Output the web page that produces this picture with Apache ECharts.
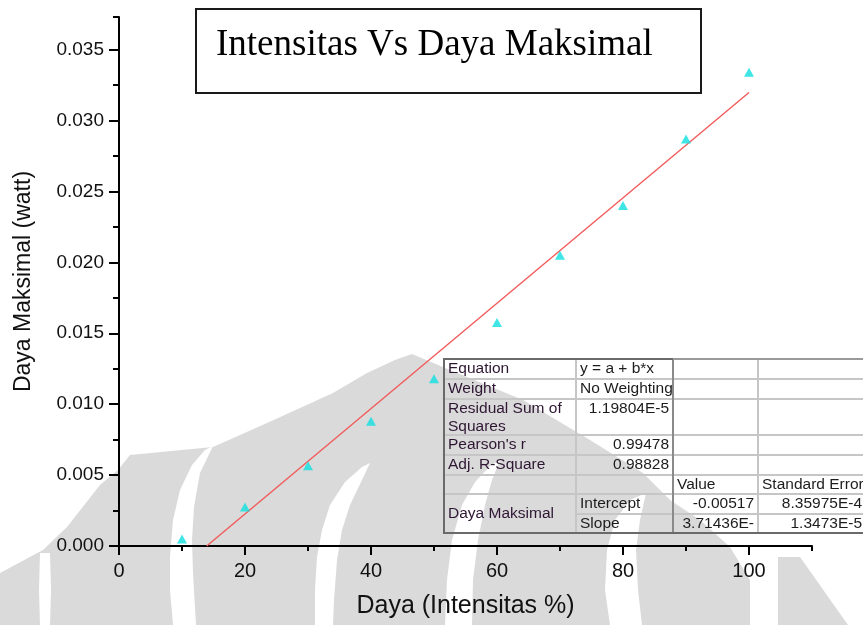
<!DOCTYPE html>
<html>
<head>
<meta charset="utf-8">
<title>Intensitas Vs Daya Maksimal</title>
<script src="https://cdn.jsdelivr.net/npm/echarts@6/dist/echarts.min.js"></script>
<style>
  html, body { margin: 0; padding: 0; background: #ffffff; }
  #chart { width: 863px; height: 625px; }
</style>
</head>
<body>
<div id="chart"></div>
<script>
// Measured points: light intensity (%) vs maximum power (W)
const intensitas = [10, 20, 30, 40, 50, 60, 70, 80, 90, 100];
const dayaMaksimal = [0.0005, 0.00275, 0.00565, 0.0088, 0.0118, 0.01576, 0.0205, 0.0240, 0.0287, 0.0334];

// Linear fit y = a + b*x
const fitIntercept = -0.00517;
const fitSlope = 3.71436e-4;

// Axis ticks
const xMajorTicks = [0, 20, 40, 60, 80, 100];
const xMinorTicks = [10, 30, 50, 70, 90, 110];
const yMajorTicks = [0, 0.005, 0.010, 0.015, 0.020, 0.025, 0.030, 0.035];
const yMinorTicks = [0.0025, 0.0075, 0.0125, 0.0175, 0.0225, 0.0275, 0.0325, 0.0373];
const xMax = 110;
const yMax = 0.0373;

// Fit statistics table
const tableRows = [
  ['Equation', 'y = a + b*x', '', ''],
  ['Weight', 'No Weighting', '', ''],
  ['Residual Sum of\nSquares', '1.19804E-5', '', ''],
  ["Pearson's r", '0.99478', '', ''],
  ['Adj. R-Square', '0.98828', '', ''],
  ['', '', 'Value', 'Standard Error'],
  ['Daya Maksimal', 'Intercept', '-0.00517', '8.35975E-4'],
  ['', 'Slope', '3.71436E-', '1.3473E-5']
];
const chartTitle = 'Intensitas Vs Daya Maksimal';

const chart = echarts.init(document.getElementById('chart'), null, { renderer: 'canvas' });

const SANS = '"Liberation Sans", Arial, sans-serif';
const SERIF = '"Liberation Serif", "Times New Roman", serif';

// fitted line runs from where it crosses zero up to x = 100
const fitStartX = -fitIntercept / fitSlope;
const fitLine = [
  [fitStartX, fitIntercept + fitSlope * fitStartX],
  [100, fitIntercept + fitSlope * 100]
];

// ---------- background emblem (faint watermark) ----------
const GRAY = '#dadada';
function shape(points, fill, z) {
  return { type: 'polygon', z: z, silent: true, shape: { points: points }, style: { fill: fill } };
}
const emblem = [
  shape([[0,573],[43,550],[67,527],[100,485],[118,470],[130,455],[213,447],[267,423],[333,393],[367,373],
         [395,360],[412,354],[450,370],[523,400],[590,440],[643,473],[670,500],[700,520],[730,547],
         [750,580],[750,625],[0,625]], GRAY, -20),
  shape([[778,557],[800,557],[848,625],[778,625]], GRAY, -20),
  // white crescents cutting through the emblem
  shape([[40,553],[50,553],[51,590],[50,625],[40,625],[39,590]], '#ffffff', -19),
  shape([[213,446],[200,473],[194,507],[192,540],[193,573],[196,625],[173,625],[170,590],[170,557],
         [173,520],[180,490],[192,465],[205,450]], '#ffffff', -19),
  shape([[370,463],[362,480],[350,505],[342,530],[337,560],[334,600],[333,625],[315,625],[315,590],
         [317,557],[322,530],[330,505],[345,482],[362,467]], '#ffffff', -19),
  shape([[500,460],[492,480],[485,505],[478,540],[473,580],[472,625],[445,625],[447,580],[452,540],
         [462,505],[475,482],[490,466]], '#ffffff', -19),
  shape([[646,493],[640,520],[636,550],[638,590],[642,625],[610,625],[605,590],[607,550],[615,520],
         [630,500]], '#ffffff', -19)
];

// ---------- title box ----------
const titleBox = [
  { type: 'rect', z: 10, shape: { x: 196, y: 9, width: 505, height: 84 },
    style: { fill: '#ffffff', stroke: '#1a1a1a', lineWidth: 2 } },
  { type: 'text', z: 11, x: 216, y: 45,
    style: { text: chartTitle, font: '37px ' + SERIF, fill: '#000000', verticalAlign: 'middle' } }
];

// ---------- statistics table ----------
const colX = [444, 576, 673, 758, 866];
const rowY = [359, 379, 399, 435, 455, 475, 494, 514, 533];
const rightAligned = {
  '2,1': true, '3,1': true, '4,1': true,
  '6,2': true, '6,3': true, '7,2': true, '7,3': true
};
const tableEls = [];
const INNER = '#c6c6c6';
const OUTER = '#6a6a6a';
// horizontal rules
for (let r = 1; r < rowY.length - 1; r++) {
  const y = rowY[r];
  // the merged "Daya Maksimal" cell has no rule between its two rows
  const x0 = (r === 7) ? colX[1] : colX[0];
  tableEls.push({ type: 'line', z: 5, silent: true,
    shape: { x1: x0, y1: y, x2: colX[4], y2: y },
    style: { stroke: INNER, lineWidth: 2 } });
}
// vertical rules
[1, 3].forEach(function (c) {
  tableEls.push({ type: 'line', z: 5, silent: true,
    shape: { x1: colX[c], y1: rowY[0], x2: colX[c], y2: rowY[8] },
    style: { stroke: INNER, lineWidth: 2 } });
});
tableEls.push({ type: 'line', z: 6, silent: true,
  shape: { x1: colX[2], y1: rowY[0], x2: colX[2], y2: rowY[8] },
  style: { stroke: '#8a8a8a', lineWidth: 2 } });
// outer frame
tableEls.push({ type: 'polyline', z: 7, silent: true,
  shape: { points: [[colX[2], rowY[0]], [colX[0], rowY[0]], [colX[0], rowY[8]], [colX[4], rowY[8]]] },
  style: { stroke: OUTER, lineWidth: 2, fill: null } });
tableEls.push({ type: 'line', z: 7, silent: true,
  shape: { x1: colX[2], y1: rowY[0], x2: colX[4], y2: rowY[0] },
  style: { stroke: '#9a9a9a', lineWidth: 2 } });

// cell texts
tableRows.forEach(function (row, ri) {
  row.forEach(function (txt, ci) {
    if (!txt) return;
    const right = rightAligned[ri + ',' + ci];
    let y = (rowY[ri] + rowY[ri + 1]) / 2;
    let vAlign = 'middle';
    if (ri === 6 && ci === 0) { y = (rowY[6] + rowY[8]) / 2; }
    if (ri === 2) {
      if (ci === 0) { y = rowY[2] + 1; vAlign = 'top'; }
      else { y = rowY[2] + 10; }
    }
    tableEls.push({ type: 'text', z: 8, silent: true,
      x: right ? colX[ci + 1] - 4 : colX[ci] + 4,
      y: y,
      style: {
        text: txt,
        font: '15.5px ' + SANS,
        fill: ci === 0 ? '#2e1633' : '#1c1c1c',
        align: right ? 'right' : 'left',
        verticalAlign: vAlign,
        lineHeight: 18
      } });
  });
});

const axisLabelFont = { fontFamily: SANS, color: '#111111' };

const option = {
  backgroundColor: '#ffffff',
  animation: false,
  grid: { left: 119, right: 51, top: 17, bottom: 79, containLabel: false },
  xAxis: [
    {
      type: 'value', min: 0, max: xMax, position: 'bottom',
      name: 'Daya (Intensitas %)', nameLocation: 'middle', nameGap: 48,
      nameTextStyle: { fontFamily: SANS, fontSize: 25, color: '#111111' },
      axisLine: { show: true, onZero: false, lineStyle: { color: '#000000', width: 2 } },
      axisTick: { show: true, inside: false, length: 9, customValues: xMajorTicks, lineStyle: { color: '#000000', width: 2 } },
      axisLabel: Object.assign({ fontSize: 20, margin: 15, customValues: xMajorTicks }, axisLabelFont),
      splitLine: { show: false }
    },
    {
      type: 'value', min: 0, max: xMax, position: 'bottom', offset: 0,
      axisLine: { show: false },
      axisTick: { show: true, inside: false, length: 5, customValues: xMinorTicks, lineStyle: { color: '#000000', width: 2 } },
      axisLabel: { show: false },
      splitLine: { show: false }
    }
  ],
  yAxis: [
    {
      type: 'value', min: 0, max: yMax, position: 'left',
      name: 'Daya Maksimal (watt)', nameLocation: 'middle', nameGap: 84, nameRotate: 90,
      nameTextStyle: { fontFamily: SANS, fontSize: 23, color: '#111111' },
      axisLine: { show: true, onZero: false, lineStyle: { color: '#000000', width: 2 } },
      axisTick: { show: true, inside: false, length: 10, customValues: yMajorTicks, lineStyle: { color: '#000000', width: 2 } },
      axisLabel: Object.assign({
        fontSize: 19, margin: 15, customValues: yMajorTicks,
        formatter: function (v) { return v.toFixed(3); }
      }, axisLabelFont),
      splitLine: { show: false }
    },
    {
      type: 'value', min: 0, max: yMax, position: 'left', offset: 0,
      axisLine: { show: false },
      axisTick: { show: true, inside: false, length: 6, customValues: yMinorTicks, lineStyle: { color: '#000000', width: 2 } },
      axisLabel: { show: false },
      splitLine: { show: false }
    }
  ],
  series: [
    {
      name: 'Daya Maksimal',
      type: 'scatter',
      xAxisIndex: 0, yAxisIndex: 0,
      symbol: 'triangle',
      symbolSize: [10, 9],
      itemStyle: { color: '#10dede' },
      data: intensitas.map(function (x, i) { return [x, dayaMaksimal[i]]; }),
      z: 4
    },
    {
      name: 'Linear Fit',
      type: 'line',
      xAxisIndex: 0, yAxisIndex: 0,
      showSymbol: false,
      lineStyle: { color: '#f25a5a', width: 1.4 },
      data: fitLine,
      z: 3
    }
  ],
  graphic: { elements: emblem.concat(tableEls, titleBox) }
};

chart.setOption(option);
</script>
</body>
</html>
